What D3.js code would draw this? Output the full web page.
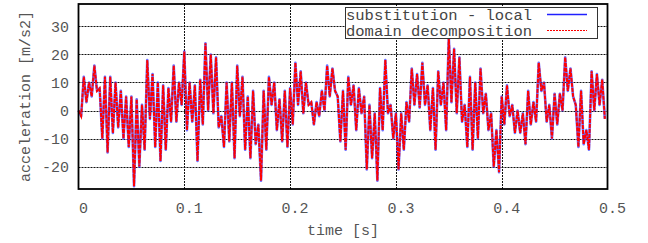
<!DOCTYPE html>
<html>
	<head>
		<title>acceleration</title>
		<script src="https://d3js.org/d3.v7.min.js"></script>
		<style>
			body { margin: 0; background: #fff; }
			text { font-family: "Liberation Mono", "DejaVu Sans Mono", monospace; }
		</style>
	</head>
	<body>
		<script>

			// sample step [s]; the signal is read as (high, low) pairs of 5 ms blocks
			var dt = 0.0025;

			// acceleration [m/s2], substitution - local
			var substitution = [
				0, -2,   12, 3,   10, 5,   16, 7,   8, -10,  12, -15,  12, -8,  10, -6,  7, -10,  5, -13,
				5, -27,  4, -20,  2, -14,  18, -3,  13, -13,  10, -18,  9, -14,  8, -4,   16, -4,  10, 2,
				21, -7,  10, -4,  9, -18,  11, -5,  24, 0,    20, -1,   19, -6,  -2, -13, 10, -11, 10, -17,
				16, -2,  12, -14, 5, -17,  7, -12,  -5, -25,  7, -14,   12, 2,   10, -7,  4, -11,  7, -13,
				8, -5,   17, 2,   14, -1,  10, 2,   3, -5,    3, -2,    7, 0,    16, 5,   15, 7,   5, -11,
				7, -14,  12, 2,   9, -7,   8, -1,   5, -21,   2, -17,   -1, -25, 8, -7,  18, -1,  2, -10,
				-1, -21, -1, -14, 3, -4,   15, 2,   13, 1,    17, 2,    9, -7,   8, -14, 14, 2,   10, -7,
				26, 3,   22, -1,  19, -4,  2, -13,  12, -14,  10, -10,  15, -1,  6, -7,  -1, -20, -7, -22,
				5, -5,   9, -2,   2, -8,   0, -8,   -1, -12,  7, -5,    3, -4,   17, 7,  10, -4,  2, -10,
				6, -5,   6, 0,    19, 7,   15, 5,   2, -13,   7, -12,   -7, -14, 14, 0,  13, 2,   11, -3
			];

			// domain decomposition: coincides with the local solution at this resolution
			var decomposition = substitution.slice();

			var x_ticks = [0, 0.1, 0.2, 0.3, 0.4, 0.5];
			var y_ticks = [-20, -10, 0, 10, 20, 30];
			var legend_names = ["substitution - local", "domain decomposition"];

			// layout (note: "top" is taken by window.top)
			var width = 648;
			var height = 243;
			var plot_left = 78.5, plot_right = 607.5, plot_top = 4, plot_bottom = 189;
			var label_color = "#555";

			var svg = d3.select("body").append("svg")
				.attr("width", width)
				.attr("height", height);

			var x = d3.scaleLinear().domain([0, 0.5]).range([plot_left, plot_right]);
			var y = d3.scaleLinear().domain([-28, 38]).range([plot_bottom, plot_top]);

			// grid
			svg.append("g").selectAll("line")
				.data(x_ticks.slice(1, -1))
				.enter().append("line")
				.attr("x1", function (d) { return Math.round(x(d)) + 0.5; })
				.attr("x2", function (d) { return Math.round(x(d)) + 0.5; })
				.attr("y1", plot_top).attr("y2", plot_bottom)
				.attr("stroke", "#111").attr("stroke-width", 1)
				.attr("stroke-dasharray", "2,1");
			svg.append("g").selectAll("line")
				.data(y_ticks)
				.enter().append("line")
				.attr("x1", plot_left).attr("x2", plot_right)
				.attr("y1", function (d) { return Math.round(y(d)) + 0.5; })
				.attr("y2", function (d) { return Math.round(y(d)) + 0.5; })
				.attr("stroke", "#111").attr("stroke-width", 1)
				.attr("stroke-dasharray", "2,1");

			// axes (labels only, gnuplot style; plain hyphen for minus)
			var x_axis = d3.axisBottom(x).tickValues(x_ticks).tickSize(0).tickPadding(0)
				.tickFormat(function (d) { return d === 0 ? "0" : d3.format(".1f")(d); });
			var gx = svg.append("g").attr("transform", "translate(4.5," + (plot_bottom + 13) + ")").call(x_axis);
			gx.select(".domain").remove();
			gx.selectAll("text").attr("font-size", 15).attr("fill", label_color)
				.attr("font-family", "Liberation Mono").attr("dy", "0.71em");

			var y_axis = d3.axisLeft(y).tickValues(y_ticks).tickSize(0).tickPadding(0)
				.tickFormat(function (d) { return String(d); });
			var gy = svg.append("g").attr("transform", "translate(69,0)").call(y_axis);
			gy.select(".domain").remove();
			gy.selectAll("text").attr("font-size", 15).attr("fill", label_color)
				.attr("font-family", "Liberation Mono").attr("dy", "0.35em");

			// series
			var line = d3.line()
				.x(function (d, i) { return x(i * dt); })
				.y(function (d) { return y(d); });

			svg.append("path").datum(substitution)
				.attr("d", line)
				.attr("fill", "none")
				.attr("stroke", "#3030ff")
				.attr("stroke-width", 2.6)
				.attr("stroke-opacity", 0.7)
				.attr("stroke-linejoin", "round");

			svg.append("path").datum(decomposition)
				.attr("d", line)
				.attr("fill", "none")
				.attr("stroke", "#ff0000")
				.attr("stroke-width", 2)
				.attr("stroke-dasharray", "4,1");

			// frame
			svg.append("rect")
				.attr("x", plot_left).attr("y", plot_top)
				.attr("width", plot_right - plot_left).attr("height", plot_bottom - plot_top)
				.attr("fill", "none").attr("stroke", "#000").attr("stroke-width", 1.8);

			// axis titles
			svg.append("text")
				.attr("x", (plot_left + plot_right) / 2).attr("y", 235)
				.attr("text-anchor", "middle")
				.attr("font-size", 15).attr("fill", label_color)
				.text("time [s]");
			svg.append("text")
				.attr("transform", "translate(30," + ((plot_top + plot_bottom) / 2) + ") rotate(-90)")
				.attr("text-anchor", "middle")
				.attr("font-size", 15).attr("fill", label_color)
				.text("acceleration [m/s2]");

			// legend
			var legend = svg.append("g");
			legend.append("rect")
				.attr("x", 345.5).attr("y", 7.5)
				.attr("width", 252).attr("height", 31)
				.attr("fill", "#fff").attr("stroke", "#333").attr("stroke-width", 1);
			legend.selectAll("text")
				.data(legend_names)
				.enter().append("text")
				.attr("x", 346)
				.attr("y", function (d, i) { return 19.5 + i * 16; })
				.attr("font-size", 15.5).attr("fill", "#444")
				.text(function (d) { return d; });
			legend.append("line")
				.attr("x1", 547).attr("x2", 587).attr("y1", 14.5).attr("y2", 14.5)
				.attr("stroke", "#2020ff").attr("stroke-width", 1.3);
			legend.append("line")
				.attr("x1", 547).attr("x2", 587).attr("y1", 30.5).attr("y2", 30.5)
				.attr("stroke", "#ff0000").attr("stroke-width", 1.1)
				.attr("stroke-dasharray", "2,1");

		</script>
	</body>
</html>
